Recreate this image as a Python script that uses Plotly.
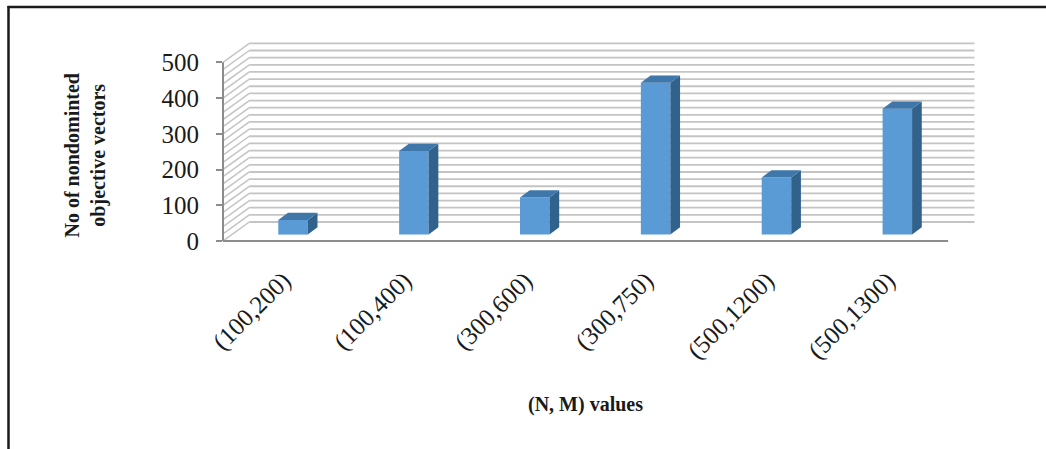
import plotly.graph_objects as go

# ---------------- data ----------------
categories = ["(100,200)", "(100,400)", "(300,600)", "(300,750)", "(500,1200)", "(500,1300)"]
values = [41, 234, 104, 425, 160, 352]
y_ticks = [0, 100, 200, 300, 400, 500]
grid_step = 20
y_title = "No of nondominted<br>objective vectors"
x_title = "(N, M) values"

# ---------------- geometry / style ----------------
W, H = 1046, 449
L, R, T, B = 223, 64, 42, 208
X_RANGE = [-0.5, 5.78]
Y_RANGE = [0, 557]
plot_w = W - L - R
plot_h = H - T - B
px_per_cat = plot_w / (X_RANGE[1] - X_RANGE[0])
px_per_unit = plot_h / (Y_RANGE[1] - Y_RANGE[0])

WALL_DX = 26.3 / px_per_cat
WALL_DY = 19.0 / px_per_unit
BAR_FX = 9.6 / px_per_cat
BAR_FY = 6.4 / px_per_unit
BAR_W = 29.5 / px_per_cat
BAR_DX = 9.7 / px_per_cat
BAR_DY = 7.3 / px_per_unit

FRONT = "#5B9BD5"
SIDE = "#31628C"
TOP = "#4077AB"
GRID = "#c4c4c4"
AXIS = "#8c8c8c"
FONT = "Liberation Serif"


def px_x(px):
    return (px - L) / plot_w


def px_y(py):
    return (H - B - py) / plot_h


n = len(categories)
fig = go.Figure()

# front faces of bars
fig.add_trace(go.Bar(
    x=[i + BAR_FX for i in range(n)], y=values, base=[BAR_FY] * n,
    width=[BAR_W] * n, marker=dict(color=FRONT, line=dict(width=0)),
    hoverinfo="skip", showlegend=False))

# side and top faces
for i, v in enumerate(values):
    xl = i + BAR_FX - BAR_W / 2
    xr = i + BAR_FX + BAR_W / 2
    b = BAR_FY
    t = BAR_FY + v
    fig.add_trace(go.Scatter(
        x=[xr, xr + BAR_DX, xr + BAR_DX, xr, xr],
        y=[b, b + BAR_DY, t + BAR_DY, t, b],
        fill="toself", fillcolor=SIDE, mode="lines", line=dict(width=0, color=SIDE),
        hoverinfo="skip", showlegend=False))
    fig.add_trace(go.Scatter(
        x=[xl, xr, xr + BAR_DX, xl + BAR_DX, xl],
        y=[t, t, t + BAR_DY, t + BAR_DY, t],
        fill="toself", fillcolor=TOP, mode="lines", line=dict(width=0, color=TOP),
        hoverinfo="skip", showlegend=False))

shapes = []
# walls: gridlines (left wall diagonals + back wall horizontals)
g = 0
while g <= y_ticks[-1]:
    shapes.append(dict(type="line", xref="x", yref="y", layer="below",
                       x0=X_RANGE[0], y0=g, x1=X_RANGE[0] + WALL_DX, y1=g + WALL_DY,
                       line=dict(color=GRID, width=1.5)))
    shapes.append(dict(type="line", xref="x", yref="y", layer="below",
                       x0=X_RANGE[0] + WALL_DX, y0=g + WALL_DY,
                       x1=n - 0.5 + WALL_DX, y1=g + WALL_DY,
                       line=dict(color=GRID, width=1.8)))
    g += grid_step

# axis lines
shapes.append(dict(type="line", xref="paper", yref="y", x0=0, x1=0,
                   y0=0, y1=y_ticks[-1], line=dict(color=AXIS, width=2)))
shapes.append(dict(type="line", xref="x", yref="paper", x0=-0.5, x1=n - 0.5,
                   y0=0, y1=0, line=dict(color=AXIS, width=2)))

# outer frame (top and left)
shapes.append(dict(type="line", xref="paper", yref="paper",
                   x0=px_x(7.5), x1=px_x(W + 2), y0=px_y(7), y1=px_y(7),
                   line=dict(color="#1a1a1a", width=2.5)))
shapes.append(dict(type="line", xref="paper", yref="paper",
                   x0=px_x(8.5), x1=px_x(8.5), y0=px_y(6), y1=px_y(H + 2),
                   line=dict(color="#1a1a1a", width=2.5)))

annotations = [
    dict(text="<b>" + y_title.replace("<br>", "</b><br><b>") + "</b>",
         xref="paper", yref="paper", x=px_x(85), y=px_y(155.5),
         xanchor="center", yanchor="middle", textangle=-90, showarrow=False,
         font=dict(family=FONT, size=20, color="#1a1a1a")),
    dict(text="<b>" + x_title + "</b>", xref="paper", yref="paper",
         x=px_x(585), y=px_y(404), xanchor="center", yanchor="middle",
         showarrow=False, font=dict(family=FONT, size=20, color="#1a1a1a")),
]

fig.update_layout(
    width=W, height=H, margin=dict(l=L, r=R, t=T, b=B, pad=0),
    paper_bgcolor="white", plot_bgcolor="rgba(0,0,0,0)",
    showlegend=False, shapes=shapes, annotations=annotations,
    xaxis=dict(range=X_RANGE, tickmode="array", tickvals=list(range(n)),
               ticktext=categories, tickangle=-45, ticks="", showgrid=False,
               zeroline=False, showline=False, ticklabelstandoff=19,
               tickfont=dict(family=FONT, size=25, color="#1a1a1a")),
    yaxis=dict(range=Y_RANGE, tickmode="array", tickvals=y_ticks,
               ticks="outside", ticklen=6, tickwidth=2, tickcolor=AXIS,
               showgrid=False, zeroline=False, showline=False,
               ticklabelstandoff=12,
               tickfont=dict(family=FONT, size=25, color="#1a1a1a")),
)

fig.write_html("out.html")
